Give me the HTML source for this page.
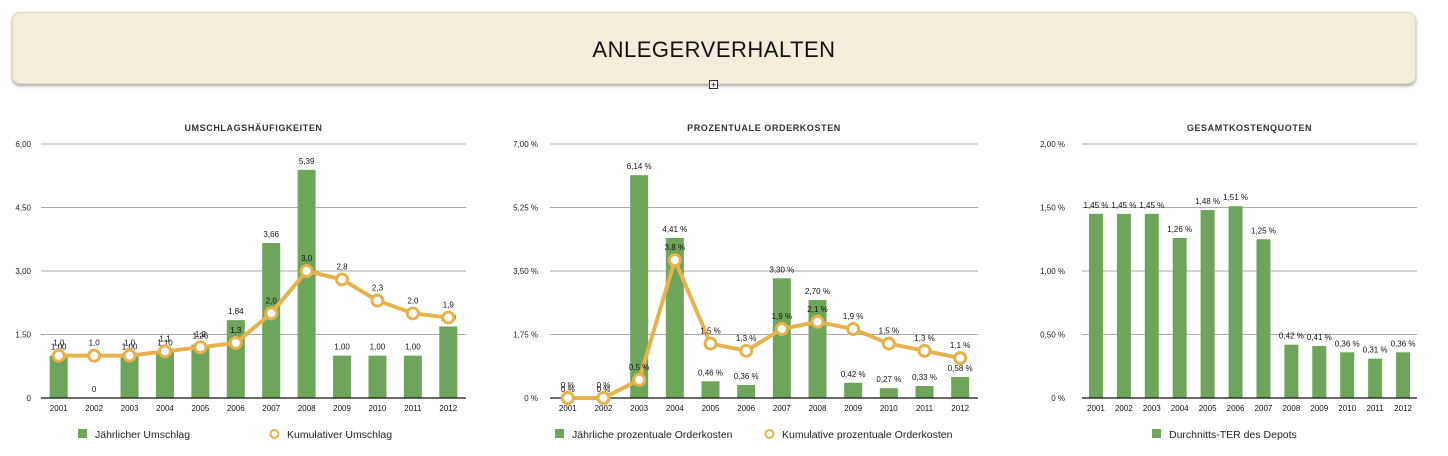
<!DOCTYPE html>
<html><head><meta charset="utf-8">
<style>
body{margin:0;width:1448px;height:456px;background:#fff;font-family:"Liberation Sans",sans-serif;overflow:hidden;position:relative}
#hdr{position:absolute;left:12px;top:12px;width:1404px;height:72px;background:#f4eddb;border-radius:8px;box-shadow:0 2px 3px rgba(0,0,0,0.35);border:1px solid #e2d8bf;box-sizing:border-box}
#hdr span{position:absolute;left:0;right:0;top:24px;text-align:center;font-size:22px;color:#111;letter-spacing:0.5px}
#plus{position:absolute;left:709px;top:80px;width:9px;height:9px;border:1px solid #333;background:#fff;font-size:9px;line-height:9px;text-align:center;box-sizing:border-box}
svg{position:absolute;left:0;top:0}
</style></head><body>
<div id="hdr"><span>ANLEGERVERHALTEN</span></div>
<div id="plus">+</div>
<svg id="s" width="1448" height="456"></svg>
<script>
const years=["2001","2002","2003","2004","2005","2006","2007","2008","2009","2010","2011","2012"];
const c1Bars=[1.00,0,1.00,1.10,1.26,1.84,3.66,5.39,1.00,1.00,1.00,1.69];
const c1BarLabels=["1,00","0","1,00","1,10","1,26","1,84","3,66","5,39","1,00","1,00","1,00","1,69"];
const c1Line=[1.0,1.0,1.0,1.1,1.2,1.3,2.0,3.0,2.8,2.3,2.0,1.9];
const c1LineLabels=["1,0","1,0","1,0","1,1","1,2","1,3","2,0","3,0","2,8","2,3","2,0","1,9"];
const c1Ticks=["0","1,50","3,00","4,50","6,00"];
const c2Bars=[0,0,6.14,4.41,0.46,0.36,3.30,2.70,0.42,0.27,0.33,0.58];
const c2BarLabels=["0 %","0 %","6,14 %","4,41 %","0,46 %","0,36 %","3,30 %","2,70 %","0,42 %","0,27 %","0,33 %","0,58 %"];
const c2Line=[0,0,0.5,3.8,1.5,1.3,1.9,2.1,1.9,1.5,1.3,1.1];
const c2LineLabels=["0 %","0 %","0,5 %","3,8 %","1,5 %","1,3 %","1,9 %","2,1 %","1,9 %","1,5 %","1,3 %","1,1 %"];
const c2Ticks=["0 %","1,75 %","3,50 %","5,25 %","7,00 %"];
const c3Bars=[1.45,1.45,1.45,1.26,1.48,1.51,1.25,0.42,0.41,0.36,0.31,0.36];
const c3BarLabels=["1,45 %","1,45 %","1,45 %","1,26 %","1,48 %","1,51 %","1,25 %","0,42 %","0,41 %","0,36 %","0,31 %","0,36 %"];
const c3Ticks=["0 %","0,50 %","1,00 %","1,50 %","2,00 %"];
const svg=document.getElementById('s');const NS='http://www.w3.org/2000/svg';
function mk(t,a,txt){const e=document.createElementNS(NS,t);for(const k in a)e.setAttribute(k,a[k]);if(txt!==undefined)e.textContent=txt;svg.appendChild(e);return e;}
const G='#6fa55a',O='#e6b24c';
function chart(o){
 const top=144,bot=398,L=o.L,R=o.R,n=years.length,bw=(R-L)/n;
 const x=i=>L+bw*(i+0.5), y=v=>bot-v/o.max*(bot-top);
 let t=mk('text',{x:(L+R)/2,y:131,'text-anchor':'middle','font-size':9,'font-weight':'bold','letter-spacing':0.6,fill:'#333'},o.title);
 
 o.ticks.forEach((tk,i)=>{const v=o.max*i/(o.ticks.length-1);
  if(i>0){const l=mk('line',{x1:L,x2:R,y1:y(v),y2:y(v),stroke:'#aaa','stroke-width':1});}
  const e=mk('text',{x:o.labX,y:y(v)+3,'text-anchor':'end','font-size':8,fill:'#222'},tk);
  });
 o.bars.forEach((v,i)=>{const r=mk('rect',{x:x(i)-o.barW/2,y:y(v),width:o.barW,height:bot-y(v),fill:G});
  
  const e=mk('text',{x:x(i),y:y(v)-6,'text-anchor':'middle','font-size':8,fill:'#111'},o.barLabels[i]);
  
  const yl=mk('text',{x:x(i),y:411,'text-anchor':'middle','font-size':8,fill:'#111'},years[i]);
  });
 const ax=mk('line',{x1:L,x2:R,y1:bot,y2:bot,stroke:'#111','stroke-width':1.2});
 if(o.line){
  const p=mk('polyline',{points:o.line.map((v,i)=>x(i)+','+y(v)).join(' '),fill:'none',stroke:O,'stroke-width':4,'stroke-linejoin':'round'});
  
  o.line.forEach((v,i)=>{const c=mk('circle',{cx:x(i),cy:y(v),r:5.5,fill:'#fff',stroke:O,'stroke-width':3});
   
   const e=mk('text',{x:x(i),y:y(v)-10,'text-anchor':'middle','font-size':8,fill:'#111'},o.lineLabels[i]);
   });
 }
 o.legend.forEach(lg=>{
  if(lg.t==='bar'){const r=mk('rect',{x:lg.x,y:429,width:9,height:9,fill:G});}
  else{const c=mk('circle',{cx:lg.x+4.5,cy:434,r:4,fill:'#fff',stroke:O,'stroke-width':2});}
  const e=mk('text',{x:lg.x+17,y:438,'font-size':10.5,fill:'#222'},lg.label);
  });
}
chart({id:'umschlag',title:'UMSCHLAGSHÄUFIGKEITEN',L:41,R:466,labX:31,max:6,ticks:c1Ticks,bars:c1Bars,barLabels:c1BarLabels,line:c1Line,lineLabels:c1LineLabels,barW:18,
 legend:[{t:'bar',x:78,label:'Jährlicher Umschlag'},{t:'line',x:270,label:'Kumulativer Umschlag'}]});
chart({id:'orderkosten',title:'PROZENTUALE ORDERKOSTEN',L:550,R:978,labX:538,max:7,ticks:c2Ticks,bars:c2Bars,barLabels:c2BarLabels,line:c2Line,lineLabels:c2LineLabels,barW:18,
 legend:[{t:'bar',x:555,label:'Jährliche prozentuale Orderkosten'},{t:'line',x:765,label:'Kumulative prozentuale Orderkosten'}]});
chart({id:'ter',title:'GESAMTKOSTENQUOTEN',L:1082,R:1417,labX:1065,max:2,ticks:c3Ticks,bars:c3Bars,barLabels:c3BarLabels,barW:14,
 legend:[{t:'bar',x:1152,label:'Durchnitts-TER des Depots'}]});
</script>
</body></html>
